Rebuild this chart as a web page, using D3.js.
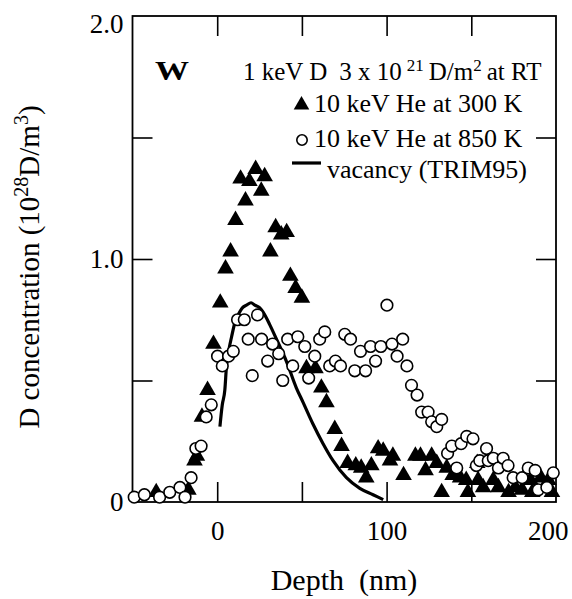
<!DOCTYPE html>
<html>
<head>
<meta charset="utf-8">
<script src="https://cdn.jsdelivr.net/npm/d3@7"></script>
<style>
body { margin: 0; background: #fff; }
text { font-family: "Liberation Serif", "Times New Roman", serif; fill: #000; }
</style>
</head>
<body>
<div id="chart-area"></div>
<script>
// 10 keV He at 300 K (filled triangles)
var he300Depth = [-36, -17, -13.4, -12, -9, -5.7, -2.2, 1.8, 4.9, 7.9, 10.8, 13.8, 16.7, 19, 22.7, 26, 28, 31.4, 34.5, 37.8, 41, 43.2, 46.3, 50, 52.7, 58, 61.5, 64.5, 69.4, 73.4, 77, 81.8, 85, 88, 91, 95, 98, 102, 103.7, 110, 117, 120, 123, 126.6, 129.6, 132.5, 135.5, 139, 143.4, 147, 148, 153.5, 154, 157, 163, 166, 172, 176, 180, 185, 186, 191, 195.5, 197.6];
var he300Conc = [0.04, 0.05, 0.17, 0.19, 0.35, 0.46, 0.65, 0.82, 0.96, 1.03, 1.16, 1.33, 1.24, 1.32, 1.37, 1.28, 1.34, 1.03, 1.13, 1.10, 1.11, 0.93, 0.88, 0.84, 0.55, 0.55, 0.47, 0.41, 0.30, 0.23, 0.16, 0.15, 0.14, 0.10, 0.15, 0.22, 0.21, 0.17, 0.19, 0.11, 0.19, 0.19, 0.13, 0.19, 0.16, 0.04, 0.14, 0.11, 0.10, 0.09, 0.04, 0.16, 0.09, 0.06, 0.09, 0.06, 0.04, 0.06, 0.05, 0.09, 0.04, 0.10, 0.09, 0.04];

// 10 keV He at 850 K (open circles)
var he850Depth = [-49, -43, -34, -28, -22, -19, -15.4, -12.6, -9.5, -6.5, -3.5, 0.2, 3, 6.7, 9.5, 12, 16, 18.3, 20.7, 23.8, 26.2, 29.8, 32.7, 36.3, 38.7, 41.6, 44.6, 47.6, 51.7, 54, 57.6, 60.5, 63.5, 66.4, 69.8, 72.8, 75.3, 78.7, 81.2, 84.6, 87.6, 90.5, 93.5, 96.6, 100.2, 103.2, 106.2, 109.5, 112, 114.7, 118, 120.7, 124.5, 126.6, 129.6, 132.5, 136, 138.5, 141.4, 144, 147.3, 151, 153, 155, 159, 160, 163, 166, 168.8, 171.7, 174.7, 180, 183.6, 187.7, 189.5, 194.6, 198.4];
var he850Conc = [0.02, 0.03, 0.02, 0.04, 0.06, 0.02, 0.10, 0.22, 0.23, 0.35, 0.40, 0.60, 0.56, 0.60, 0.62, 0.75, 0.75, 0.67, 0.52, 0.77, 0.67, 0.58, 0.65, 0.61, 0.50, 0.67, 0.56, 0.68, 0.64, 0.51, 0.60, 0.67, 0.70, 0.56, 0.58, 0.56, 0.69, 0.67, 0.54, 0.62, 0.54, 0.64, 0.58, 0.64, 0.81, 0.65, 0.60, 0.67, 0.56, 0.48, 0.44, 0.37, 0.37, 0.33, 0.31, 0.34, 0.20, 0.23, 0.14, 0.24, 0.27, 0.26, 0.15, 0.17, 0.22, 0.17, 0.18, 0.14, 0.18, 0.15, 0.10, 0.10, 0.14, 0.13, 0.05, 0.06, 0.12];

// vacancy profile (TRIM95)
var vacDepth = [1.6, 3, 4.5, 5.5, 7, 8.5, 10.5, 12.4, 15, 17.3, 20, 22.2, 25, 27.2, 31, 35, 40.8, 46.7, 50.7, 56.6, 62.5, 68.4, 76.3, 84.2, 92, 98];
var vacConc = [0.31, 0.40, 0.46, 0.56, 0.63, 0.68, 0.74, 0.77, 0.80, 0.81, 0.82, 0.81, 0.80, 0.78, 0.73, 0.67, 0.58, 0.47, 0.41, 0.32, 0.24, 0.17, 0.10, 0.056, 0.03, 0.01];

var xTicks = [0, 50, 100, 150];
var xTickLabels = [0, 100, 200];
var yTicks = [0.5, 1.0, 1.5];
var yTickLabels = [0, 1.0, 2.0];

var legendLabels = ["10 keV He at 300 K", "10 keV He at 850 K", "vacancy (TRIM95)"];

var margin = {top: 16, right: 16, bottom: 97, left: 132.5};
var width = 556 - margin.left;
var height = 502 - margin.top;

var svg = d3.select("#chart-area")
    .append("svg")
    .attr("width", 572)
    .attr("height", 599);

var g = svg.append("g")
    .attr("transform", "translate(" + margin.left + ", " + margin.top + ")");

var x = d3.scaleLinear().domain([-50, 200]).range([0, width]);
var y = d3.scaleLinear().domain([0, 2]).range([height, 0]);

// inward ticks on all four sides
function ticksOnly(axis, tx, ty) {
    var a = g.append("g")
        .attr("transform", "translate(" + tx + ", " + ty + ")")
        .call(axis.tickSize(-20).tickFormat(""));
    a.select(".domain").remove();
    a.selectAll("line").attr("stroke", "#000").attr("stroke-width", 1.6);
}
ticksOnly(d3.axisBottom(x).tickValues(xTicks), 0, height);
ticksOnly(d3.axisTop(x).tickValues(xTicks), 0, 0);
ticksOnly(d3.axisLeft(y).tickValues(yTicks), 0, 0);
ticksOnly(d3.axisRight(y).tickValues(yTicks), width, 0);

// tick labels
var xLab = g.append("g")
    .attr("transform", "translate(0, " + height + ")")
    .call(d3.axisBottom(x).tickValues(xTickLabels).tickSize(0).tickPadding(19).tickFormat(d3.format("d")));
xLab.select(".domain").remove();
xLab.selectAll("text").attr("font-size", "27px").attr("font-family", null);
xLab.selectAll("text").filter((d) => d === 200)
    .attr("text-anchor", "end")
    .attr("x", 12);

var yLab = g.append("g")
    .call(d3.axisLeft(y).tickValues(yTickLabels).tickSize(0).tickPadding(9)
        .tickFormat((d) => d === 0 ? "0" : d3.format(".1f")(d)));
yLab.select(".domain").remove();
yLab.selectAll("text").attr("font-size", "27px").attr("font-family", null);
yLab.selectAll("text").filter((d) => d === 2).attr("dy", "0.62em");

// frame
g.append("rect")
    .attr("width", width)
    .attr("height", height)
    .attr("fill", "none")
    .attr("stroke", "#000")
    .attr("stroke-width", 1.8);

// vacancy line
var line = d3.line()
    .x((d, i) => x(vacDepth[i]))
    .y((d, i) => y(vacConc[i]))
    .curve(d3.curveMonotoneX);

g.append("path")
    .datum(vacConc)
    .attr("d", line)
    .attr("fill", "none")
    .attr("stroke", "#000")
    .attr("stroke-width", 3.2);

// triangles
var tri = d3.symbol().type(d3.symbolTriangle).size(120);
g.selectAll(".tri")
    .data(he300Conc)
    .enter().append("path")
    .attr("class", "tri")
    .attr("d", tri)
    .attr("transform", (d, i) => "translate(" + x(he300Depth[i]) + ", " + y(d) + ")")
    .attr("fill", "#000");

// circles
g.selectAll(".circ")
    .data(he850Conc)
    .enter().append("circle")
    .attr("class", "circ")
    .attr("cx", (d, i) => x(he850Depth[i]))
    .attr("cy", (d) => y(d))
    .attr("r", 5.8)
    .attr("fill", "#fff")
    .attr("stroke", "#000")
    .attr("stroke-width", 1.6);

// annotations
svg.append("text")
    .attr("x", 155)
    .attr("y", 80)
    .attr("font-size", "27px")
    .attr("font-weight", "bold")
    .attr("textLength", 34)
    .attr("lengthAdjust", "spacingAndGlyphs")
    .text("W");

var head = svg.append("text")
    .attr("x", 243)
    .attr("y", 80)
    .attr("font-size", "25px");
head.append("tspan").text("1 keV D");
head.append("tspan").attr("dx", 12).text("3 x 10");
head.append("tspan").attr("font-size", "17px").attr("dx", 5).attr("dy", -9).text("21");
head.append("tspan").attr("dx", 5).attr("dy", 9).text("D/m");
head.append("tspan").attr("font-size", "17px").attr("dy", -9).text("2");
head.append("tspan").attr("dx", 5).attr("dy", 9).text("at RT");

// legend
svg.append("path")
    .attr("d", d3.symbol().type(d3.symbolTriangle).size(105))
    .attr("transform", "translate(301.5, 105)")
    .attr("fill", "#000");
svg.append("circle")
    .attr("cx", 302)
    .attr("cy", 140)
    .attr("r", 5.2)
    .attr("fill", "#fff")
    .attr("stroke", "#000")
    .attr("stroke-width", 1.6);
svg.append("line")
    .attr("x1", 292).attr("x2", 321)
    .attr("y1", 163).attr("y2", 163)
    .attr("stroke", "#000")
    .attr("stroke-width", 3.2);

var legX = [314, 314, 327];
var legY = [112, 147, 178];
legendLabels.forEach((lab, i) => {
    svg.append("text")
        .attr("x", legX[i])
        .attr("y", legY[i])
        .attr("font-size", "26px")
        .text(lab);
});

// axis titles
svg.append("text")
    .attr("x", 344)
    .attr("y", 590)
    .attr("font-size", "30px")
    .attr("text-anchor", "middle")
    .attr("xml:space", "preserve")
    .text("Depth  (nm)");

var yt = svg.append("text")
    .attr("transform", "rotate(-90)")
    .attr("x", -267)
    .attr("y", 39)
    .attr("font-size", "29px")
    .attr("text-anchor", "middle");
yt.append("tspan").text("D concentration (10");
yt.append("tspan").attr("font-size", "20px").attr("dy", -11).text("28");
yt.append("tspan").attr("dy", 11).text("D/m");
yt.append("tspan").attr("font-size", "20px").attr("dy", -11).text("3");
yt.append("tspan").attr("dy", 11).text(")");
</script>
</body>
</html>
